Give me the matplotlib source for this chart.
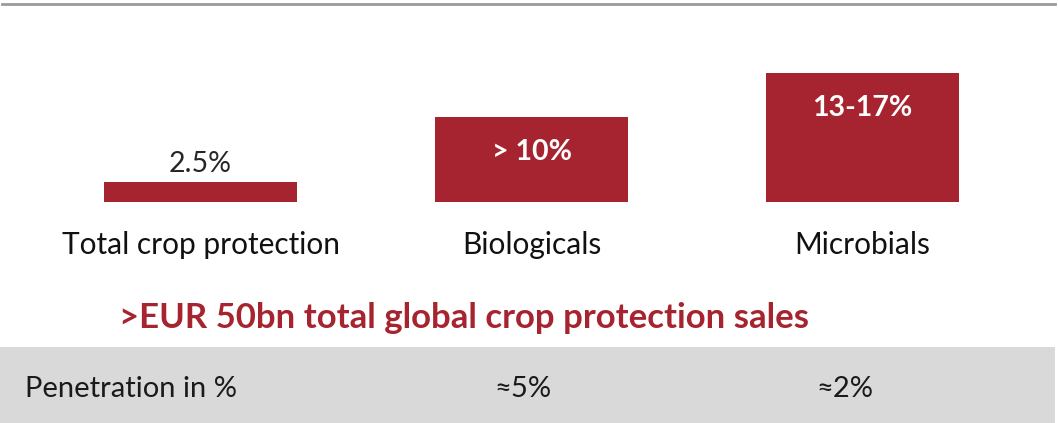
import matplotlib
matplotlib.use("Agg")
import matplotlib.pyplot as plt
from matplotlib.patches import Rectangle
from matplotlib.lines import Line2D

plt.rcParams['font.family'] = ['Lato', 'DejaVu Sans']

categories = ["Total crop protection", "Biologicals", "Microbials"]
values = [2.5, 10.6, 16.1]
bar_labels = ["2.5%", "> 10%", "13-17%"]
penetration_label = "Penetration in %"
penetration = ["", "≈5%", "≈2%"]
headline = ">EUR 50bn total global crop protection sales"

RED = "#A6242F"
W, H = 1058, 423
fig = plt.figure(figsize=(W / 100, H / 100), dpi=100)

# top rule
fig.add_artist(Line2D([2 / W, 1055 / W], [1 - 4 / H, 1 - 4 / H], color="#9a9a9a", lw=2))

# gray band
fig.add_artist(Rectangle((0, 0), 1055 / W, (H - 347) / H, transform=fig.transFigure,
                         facecolor="#D9D9D9", edgecolor="none", zorder=0))

# bar axes: baseline at y=202px from top
ax = fig.add_axes([0, (H - 202) / H, 1, 202 / H])
ax.set_xlim(-200.5 / 331, (W - 200.5) / 331)
ax.set_ylim(0, 202 / 8)
ax.axis("off")
x = list(range(len(categories)))
ax.bar(x, values, width=193 / 331, color=RED)

ax.annotate(bar_labels[0], (x[0], values[0]), xytext=(0, 18), textcoords="offset pixels",
            ha="center", va="center", fontsize=20.5, color="#262626")
for xi, v, lab in zip(x[1:], values[1:], bar_labels[1:]):
    ax.annotate(lab, (xi, v), xytext=(0, -35), textcoords="offset pixels",
                ha="center", va="center", fontsize=20.5, fontweight="bold", color="white")

for xi, cat in zip(x, categories):
    fig.text((200.5 + 331 * xi) / W, 1 - 245 / H, cat, ha="center", va="center",
             fontsize=21.5, color="#111111")

fig.text(464 / W, 1 - 318 / H, headline, ha="center", va="center",
         fontsize=25, fontweight="bold", color=RED)

fig.text(25 / W, 1 - 389 / H, penetration_label, ha="left", va="center",
         fontsize=21, color="#1a1a1a")
pen_x = [0, 523, 845]
for px, p in zip(pen_x, penetration):
    if p:
        fig.text(px / W, 1 - 389 / H, p, ha="center", va="center",
                 fontsize=21, color="#1a1a1a")

fig.savefig("out.png", dpi=100)
